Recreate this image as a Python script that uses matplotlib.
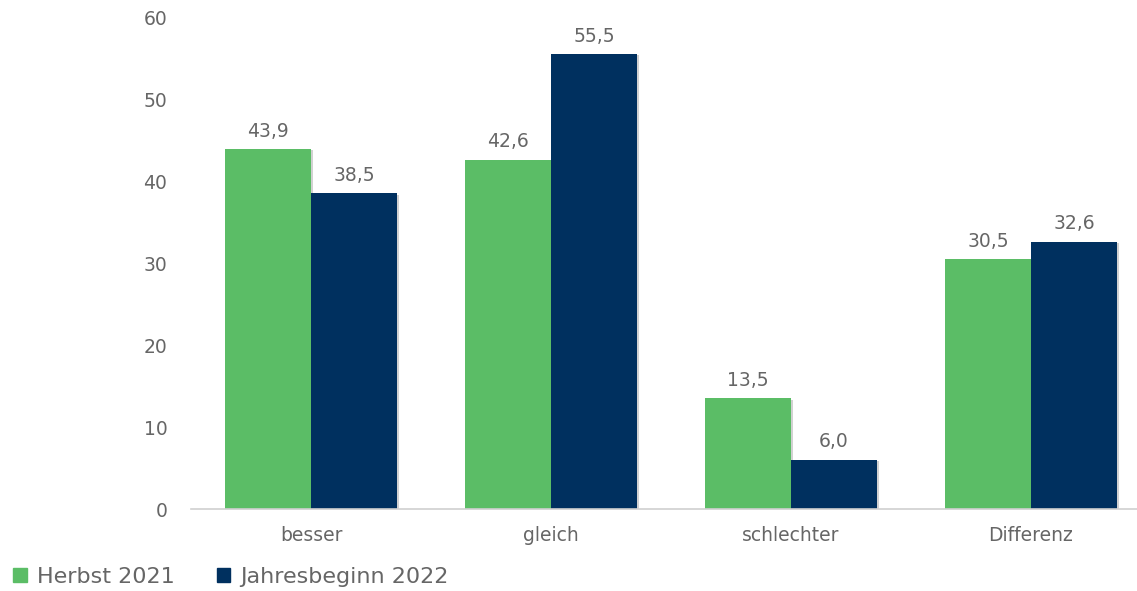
import numpy as np
from matplotlib import pyplot as plt
from matplotlib import patheffects as pe
from matplotlib.patches import Patch

categories = ["besser", "gleich", "schlechter", "Differenz"]
herbst_2021 = [43.9, 42.6, 13.5, 30.5]
jahresbeginn_2022 = [38.5, 55.5, 6.0, 32.6]
series_names = ["Herbst 2021", "Jahresbeginn 2022"]

green = "#5bbd66"
navy = "#00305f"
text_gray = "#666666"

plt.rcParams['font.family'] = ['DejaVu Sans']

fig = plt.figure(figsize=(11.37, 5.91), dpi=100)
ax = fig.add_axes([0.168, 0.1387, 0.832, 0.8325])

x = np.arange(len(categories))
w = 0.358
shadow = [pe.SimplePatchShadow(offset=(1.5, -1), shadow_rgbFace="#000000", alpha=0.18), pe.Normal()]

bars1 = ax.bar(x - w / 2, herbst_2021, w, color=green, path_effects=shadow)
bars2 = ax.bar(x + w / 2, jahresbeginn_2022, w, color=navy, path_effects=shadow)

for bars, vals in [(bars1, herbst_2021), (bars2, jahresbeginn_2022)]:
    for b, v in zip(bars, vals):
        ax.annotate(f"{v:.1f}".replace(".", ","), (b.get_x() + b.get_width() / 2, v),
                    xytext=(0, 6), textcoords="offset points", ha="center", va="bottom",
                    fontsize=13.5, color=text_gray)

ax.set_xlim(-0.5, 3.442)
ax.set_ylim(0, 60)
ax.set_yticks(range(0, 61, 10))
ax.set_xticks(x)
ax.set_xticklabels(categories)
ax.tick_params(axis="both", length=0, labelsize=13.5, colors=text_gray)
ax.tick_params(axis="y", pad=17)
ax.tick_params(axis="x", pad=12)

for side in ["top", "right", "left"]:
    ax.spines[side].set_visible(False)
ax.spines["bottom"].set_color("#d0d0d0")
ax.spines["bottom"].set_linewidth(1.2)

handles = [Patch(color=green), Patch(color=navy)]
leg = fig.legend(handles, series_names, loc="lower left", bbox_to_anchor=(0.0, -0.015),
                 ncol=2, frameon=False, fontsize=16, handlelength=0.6, handleheight=0.6,
                 handletextpad=0.45, columnspacing=1.9, borderaxespad=0.2)
for t in leg.get_texts():
    t.set_color(text_gray)

fig.savefig("out.png", dpi=100, facecolor="white")
